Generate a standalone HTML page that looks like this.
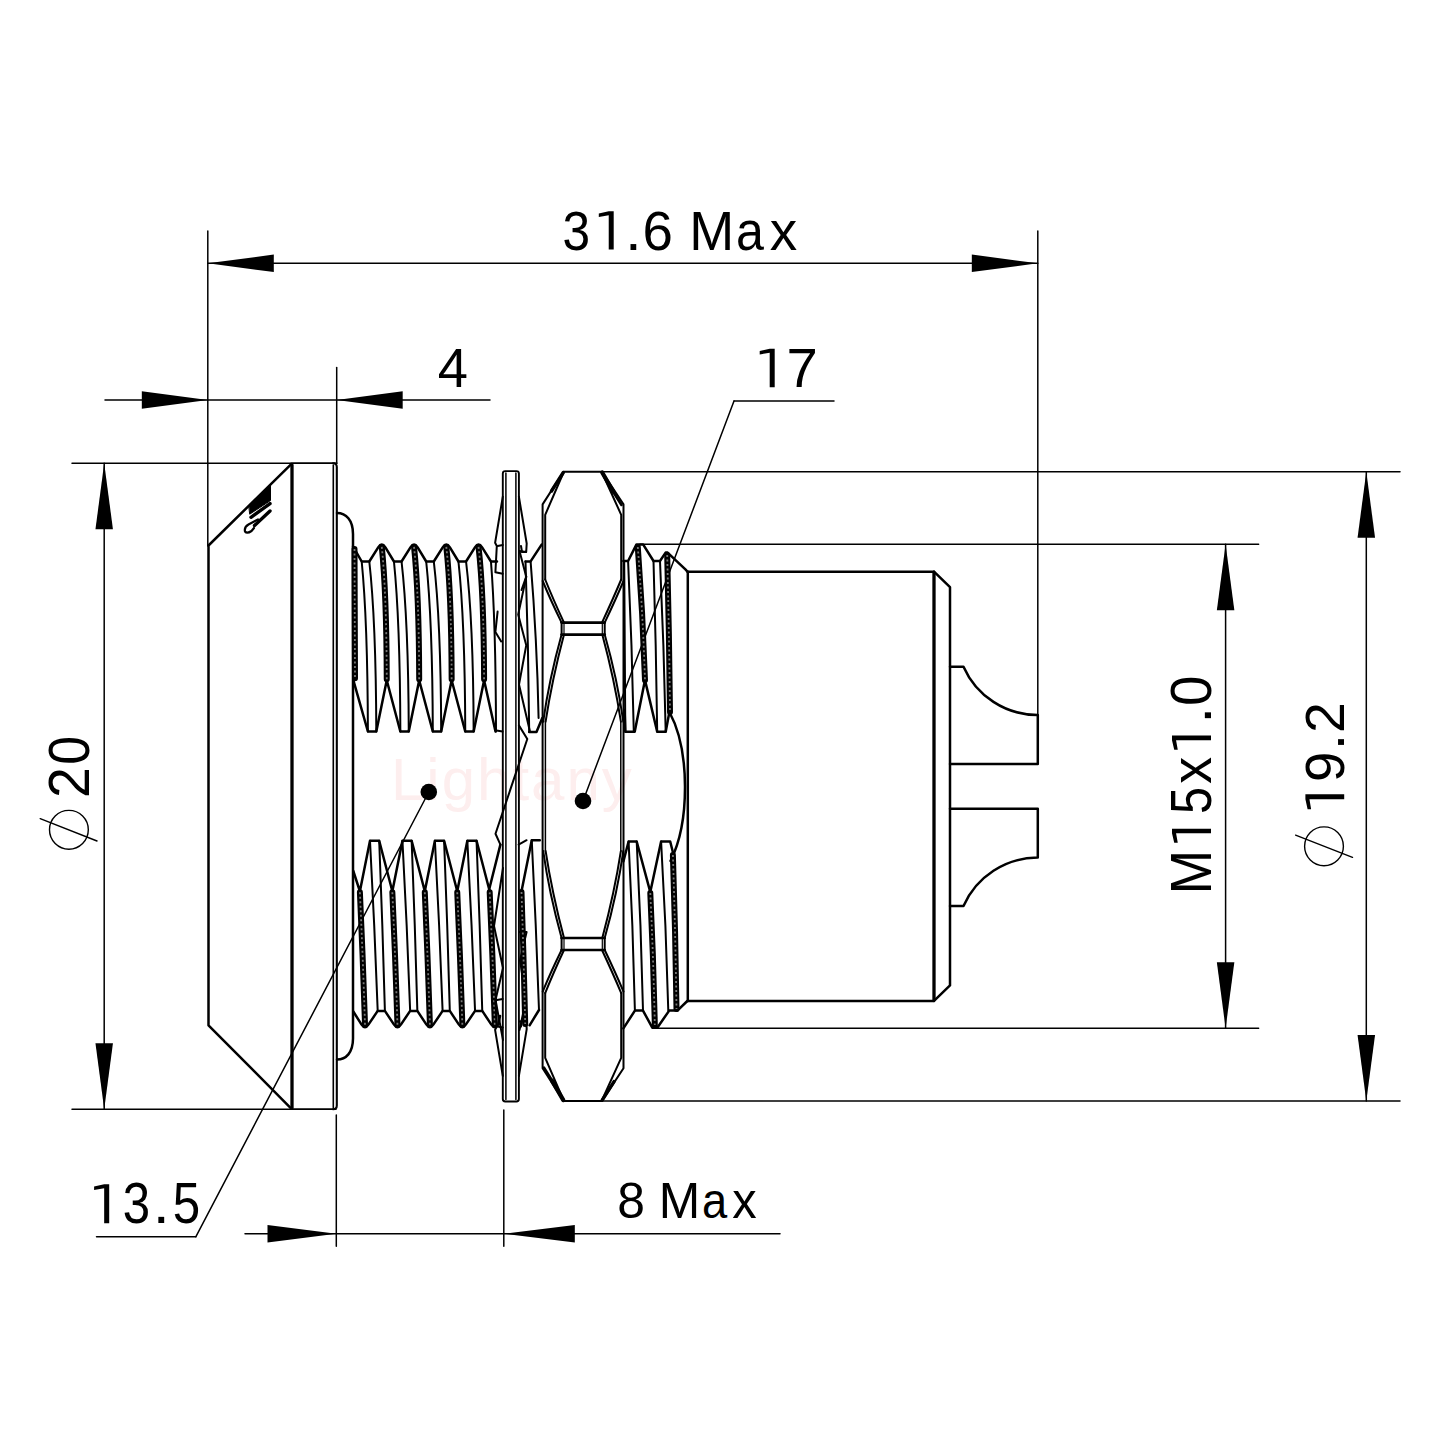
<!DOCTYPE html>
<html><head><meta charset="utf-8"><title>Connector drawing</title><style>html,body{margin:0;padding:0;background:#fff;width:1440px;height:1440px;overflow:hidden}svg{display:block}</style></head><body>
<svg width="1440" height="1440" viewBox="0 0 1440 1440">
<style>line,path,circle,polyline{fill:none;stroke:#000;stroke-linecap:round;stroke-linejoin:round}.dot,.g1{fill:#000;stroke:none}.fb{fill:#000;stroke:#000;stroke-width:1}.dim line,.dim path{stroke-width:1.5}.ar{fill:#000!important;stroke:none!important}.ph{stroke-width:1.4}.o{stroke-width:2.5}.t{stroke-width:2}.k{stroke-width:6}.d{stroke-width:1.8;stroke:#777;stroke-dasharray:2 2.5;stroke-linecap:butt}text{font-family:"Liberation Sans",sans-serif;fill:#000}.wm{fill:#fdeeee;font-size:60px;letter-spacing:2px}</style>
<rect x="0" y="0" width="1440" height="1440" fill="#fff" stroke="none"/>
<text class="wm" x="391" y="800">Lightany</text>
<g class="dim">
<line x1="207.8" y1="231" x2="207.8" y2="546"/>
<line x1="1037.8" y1="231" x2="1037.8" y2="715"/>
<line x1="207.8" y1="263.3" x2="1037.8" y2="263.3"/>
<path class="ar" d="M207.8,263.3 L273.8,254.55 L273.8,272.05Z"/>
<path class="ar" d="M1037.8,263.3 L971.8,254.55 L971.8,272.05Z"/>
<line x1="336.7" y1="367.5" x2="336.7" y2="463"/>
<line x1="105" y1="400" x2="490" y2="400"/>
<path class="ar" d="M207.8,400 L141.8,391.25 L141.8,408.75Z"/>
<path class="ar" d="M336.7,400 L402.7,391.25 L402.7,408.75Z"/>
<line x1="72" y1="463.3" x2="337" y2="463.3"/>
<line x1="72" y1="1109.2" x2="336" y2="1109.2"/>
<line x1="104.2" y1="463.3" x2="104.2" y2="1109.2"/>
<path class="ar" d="M104.2,463.3 L95.45,529.3 L112.95,529.3Z"/>
<path class="ar" d="M104.2,1109.2 L95.45,1043.2 L112.95,1043.2Z"/>
<line x1="602" y1="471.7" x2="1400" y2="471.7"/>
<line x1="602" y1="1100.9" x2="1400" y2="1100.9"/>
<line x1="1366.3" y1="471.7" x2="1366.3" y2="1100.9"/>
<path class="ar" d="M1366.3,471.7 L1357.55,537.7 L1375.05,537.7Z"/>
<path class="ar" d="M1366.3,1100.9 L1357.55,1034.9 L1375.05,1034.9Z"/>
<line x1="640" y1="544.3" x2="1258.6" y2="544.3"/>
<line x1="655" y1="1028.3" x2="1258.6" y2="1028.3"/>
<line x1="1225.6" y1="544.3" x2="1225.6" y2="1028.3"/>
<path class="ar" d="M1225.6,544.3 L1216.85,610.3 L1234.35,610.3Z"/>
<path class="ar" d="M1225.6,1028.3 L1216.85,962.3 L1234.35,962.3Z"/>
<line x1="336.3" y1="1115" x2="336.3" y2="1246.3"/>
<line x1="503.8" y1="1110" x2="503.8" y2="1246.3"/>
<line x1="245" y1="1233.8" x2="780" y2="1233.8"/>
<path class="ar" d="M336.3,1233.8 L267.5,1225.05 L267.5,1242.55Z"/>
<path class="ar" d="M503.8,1233.8 L574.8,1225.05 L574.8,1242.55Z"/>
<line x1="734" y1="401" x2="834" y2="401"/>
<line x1="734" y1="401" x2="583" y2="801"/>
<line x1="96.5" y1="1236.8" x2="195.8" y2="1236.8"/>
<line x1="195.8" y1="1236.8" x2="428.8" y2="792"/>
</g>
<circle class="dot" cx="428.8" cy="792" r="8.3"/>
<circle class="dot" cx="583" cy="801" r="8.3"/>
<circle cx="68.9" cy="829.8" r="19.4" class="ph"/>
<line x1="40.2" y1="818.6" x2="97" y2="841" class="ph"/>
<circle cx="1324" cy="846.3" r="19.4" class="ph"/>
<line x1="1295.6" y1="835.1" x2="1352.5" y2="857.4" class="ph"/>
<g class="o">
<path d="M291,464.3 L208.5,545.5 L208.5,1025.3 L291,1108.3"/>
<line x1="291" y1="463.3" x2="335" y2="463.3" stroke-width="1.6"/>
<line x1="291" y1="1109.2" x2="335" y2="1109.2" stroke-width="1.6"/>
<line x1="333.3" y1="465" x2="333.3" y2="1107.5" stroke-width="1.6"/>
<path d="M333,463.3 Q336.8,463.3 336.8,467 L336.8,1105.5 Q336.8,1109.2 333,1109.2" stroke-width="2.1"/>
</g>
<line x1="292" y1="465" x2="292" y2="1108" stroke-width="3.3"/>
<path d="M337,513 C346,513 353,520 353,534 L353,1038.6 C353,1052.6 346,1059.6 337,1059.6" class="o"/>
<path d="M353,546.3 L361.7,561.5 L369.3,561.5 L378.2,547.4 Q381.8,541.8 385.4,547.4 L393.95,561.5 L401.55,561.5 L410.45,547.4 Q414.05,541.8 417.65,547.4 L426.2,561.5 L433.8,561.5 L442.7,547.4 Q446.3,541.8 449.9,547.4 L458.45,561.5 L466.05,561.5 L474.95,547.4 Q478.55,541.8 482.15,547.4 L490.95,561.5 L497,561.5" class="o"/>
<path d="M353.4,680.3 L367.9,731.5 L376.3,731.5 L386.75,680.3 L400.35,731.5 L408.75,731.5 L419.2,680.3 L432.8,731.5 L441.2,731.5 L451.65,680.3 L465.25,731.5 L473.65,731.5 L484.1,680.3 L495.5,731.5" class="o"/>
<path d="M354.5,549 Q354.75,613.65 355,678.3" class="k"/>
<path d="M354.5,549 Q354.75,613.65 355,678.3" class="d"/>
<path d="M381.8,546.9 Q386.5,593.24 386.75,679.3" class="k"/>
<path d="M381.8,546.9 Q386.5,593.24 386.75,679.3" class="d"/>
<path d="M361.7,561.5 Q367.59,621 367.9,731.5" class="t"/>
<path d="M369.3,561.5 Q375.95,621 376.3,731.5" class="t"/>
<path d="M414.05,546.9 Q418.94,593.24 419.2,679.3" class="k"/>
<path d="M414.05,546.9 Q418.94,593.24 419.2,679.3" class="d"/>
<path d="M393.95,561.5 Q400.03,621 400.35,731.5" class="t"/>
<path d="M401.55,561.5 Q408.39,621 408.75,731.5" class="t"/>
<path d="M446.3,546.9 Q451.38,593.24 451.65,679.3" class="k"/>
<path d="M446.3,546.9 Q451.38,593.24 451.65,679.3" class="d"/>
<path d="M426.2,561.5 Q432.47,621 432.8,731.5" class="t"/>
<path d="M433.8,561.5 Q440.83,621 441.2,731.5" class="t"/>
<path d="M478.55,546.9 Q483.82,593.24 484.1,679.3" class="k"/>
<path d="M478.55,546.9 Q483.82,593.24 484.1,679.3" class="d"/>
<path d="M458.45,561.5 Q464.91,621 465.25,731.5" class="t"/>
<path d="M466.05,561.5 Q473.27,621 473.65,731.5" class="t"/>
<path d="M490.95,561.5 Q495.75,621 496,731.5" class="t"/>
<path d="M353.3,871 L359.9,891.3 L370,840.7 L379.2,840.7 L392.35,891.3 L402.45,840.7 L411.65,840.7 L424.8,891.3 L434.9,840.7 L444.1,840.7 L457.25,891.3 L467.35,840.7 L476.55,840.7 L489.7,891.3" class="o"/>
<path d="M353.3,1011.5 L361.4,1024.4 Q365,1030 368.6,1024.4 L377.7,1010.9 L384.9,1010.9 L393.85,1024.4 Q397.45,1030 401.05,1024.4 L410.15,1010.9 L417.35,1010.9 L426.3,1024.4 Q429.9,1030 433.5,1024.4 L442.6,1010.9 L449.8,1010.9 L458.75,1024.4 Q462.35,1030 465.95,1024.4 L475.05,1010.9 L482.25,1010.9 L491.2,1024.4 Q494.8,1030 498.4,1024.4 L500,1016" class="o"/>
<path d="M359.9,892.3 Q362.96,958.6 365,1024.9" class="k"/>
<path d="M359.9,892.3 Q362.96,958.6 365,1024.9" class="d"/>
<path d="M370,840.7 Q374.62,925.8 377.7,1010.9" class="t"/>
<path d="M379.2,840.7 Q382.62,925.8 384.9,1010.9" class="t"/>
<path d="M392.35,892.3 Q395.41,958.6 397.45,1024.9" class="k"/>
<path d="M392.35,892.3 Q395.41,958.6 397.45,1024.9" class="d"/>
<path d="M402.45,840.7 Q407.07,925.8 410.15,1010.9" class="t"/>
<path d="M411.65,840.7 Q415.07,925.8 417.35,1010.9" class="t"/>
<path d="M424.8,892.3 Q427.86,958.6 429.9,1024.9" class="k"/>
<path d="M424.8,892.3 Q427.86,958.6 429.9,1024.9" class="d"/>
<path d="M434.9,840.7 Q439.52,925.8 442.6,1010.9" class="t"/>
<path d="M444.1,840.7 Q447.52,925.8 449.8,1010.9" class="t"/>
<path d="M457.25,892.3 Q460.31,958.6 462.35,1024.9" class="k"/>
<path d="M457.25,892.3 Q460.31,958.6 462.35,1024.9" class="d"/>
<path d="M467.35,840.7 Q471.97,925.8 475.05,1010.9" class="t"/>
<path d="M476.55,840.7 Q479.97,925.8 482.25,1010.9" class="t"/>
<path d="M489.7,892.3 Q492.76,958.6 494.8,1024.9" class="k"/>
<path d="M489.7,892.3 Q492.76,958.6 494.8,1024.9" class="d"/>
<path d="M502.8,1099.1 L502.8,473.5 Q502.8,471.1 505.2,471.1 L516.5,471.1 Q518.9,471.1 518.9,473.5 L518.9,1099.1 Q518.9,1101.5 516.5,1101.5 L505.2,1101.5 Q502.8,1101.5 502.8,1099.1 Z" stroke-width="1.9"/>
<line x1="505.9" y1="473" x2="505.9" y2="1099.6" stroke-width="1.5"/>
<line x1="515.9" y1="473" x2="515.9" y2="1099.6" stroke-width="1.5"/>
<path d="M502.8,496.7 L495.1,542.8 L496.8,546 L495.4,572.3 L502.7,573.7" class="t"/>
<path d="M497.6,546 L502.8,545" class="t"/>
<path d="M518.9,496.7 L526.7,543.5 L526.2,552 L519.5,551" class="t"/>
<path d="M521,546 L522,552 L526,552" class="t"/>
<path d="M502.8,1075.9 L495.1,1029.8 L496.8,1026.6 L495.4,1000.3 L502.7,998.9" class="t"/>
<path d="M497.6,1026.6 L502.8,1027.6" class="t"/>
<path d="M518.9,1075.9 L526.7,1029.1 L526.2,1020.6 L519.5,1021.6" class="t"/>
<path d="M521,1026.6 L522,1020.6 L526,1020.6" class="t"/>
<path d="M497.6,611.6 L495.4,632 L501.2,641.5" class="t"/>
<path d="M519.5,551 L526.25,576.7 L518.2,614.6 L526.25,645.2 L519,684.6 L529.9,731.25" class="t"/>
<path d="M526.25,576.7 L521.5,590" class="t"/>
<path d="M525.5,561.4 L530.6,561.4 L541.6,544.6" class="o"/>
<path d="M525.5,561.4 Q528.46,646.7 529.2,732" class="t"/>
<path d="M530.6,561.4 Q537,639.7 538.6,718" class="t"/>
<path d="M529.2,732 L536.5,732 L542.3,718" class="o"/>
<path d="M502.5,731.5 L496.5,730.5" class="t"/>
<path d="M518.9,725.4 L527.3,739 L495.5,833.75 L500.4,844.6" class="t"/>
<path d="M503,868 L494,926 L503,968 L495.5,1000 L503,1040" class="t"/>
<path d="M518.6,844.6 L526.6,840.2" class="t"/>
<path d="M519.4,932 L526.6,932 L520,960 L526,1000 L519.5,1030" class="t"/>
<path d="M521.5,891.2 L531.75,840.2 L539.8,840.2" class="o"/>
<path d="M521.5,892 Q523.72,958 525.2,1024" class="k"/>
<path d="M521.5,892 Q523.72,958 525.2,1024" class="d"/>
<path d="M531.75,840.2 Q536.1,925.1 539,1010" class="t"/>
<path d="M539,1010 L529.6,1025.3" class="o"/>
<path d="M500.4,844.6 L488.7,891.2" class="o"/>
<path d="M563.5,471.7 L542.6,504.4 L542.6,1068.2 L563.5,1100.9 L602,1100.9 L623.5,1068.2 L623.5,504.4 L602,471.7Z" stroke-width="2"/>
<path d="M563.3,473 L545.2,514.8 L545.2,579.5" class="t"/>
<path d="M602.2,473 L621.2,514.8 L621.2,579.5" class="t"/>
<path d="M563.3,472.5 L551.5,491" stroke-width="3.4"/>
<path d="M602.2,472.5 L613.5,492" stroke-width="4.2"/>
<path d="M612,490 L621.5,505" stroke-width="2.6"/>
<path d="M545.2,579.5 Q553,599 564,622.6" class="t"/>
<path d="M542.7,581 Q550.5,600 561.6,622.6" class="t"/>
<path d="M621.2,579.5 Q613,599 602,622.6" class="t"/>
<path d="M623.5,581 Q615.5,600 604.7,622.6" class="t"/>
<line x1="561.6" y1="622.6" x2="604.7" y2="622.6" stroke-width="2.7"/>
<line x1="561.6" y1="634.6" x2="604.7" y2="634.6" stroke-width="2.7"/>
<line x1="561.6" y1="622.6" x2="561.6" y2="634.6" class="t"/>
<line x1="564" y1="622.6" x2="564" y2="634.6" stroke-width="1.2"/>
<line x1="604.7" y1="622.6" x2="604.7" y2="634.6" class="t"/>
<line x1="602.3" y1="622.6" x2="602.3" y2="634.6" stroke-width="1.2"/>
<path d="M564,634.6 Q552,680 545.6,721.7" class="t"/>
<path d="M561.6,634.6 Q549,680 543.2,721.7" class="t"/>
<path d="M602.3,634.6 Q614.5,680 620.9,721.7" class="t"/>
<path d="M604.7,634.6 Q617.5,680 623.3,721.7" class="t"/>
<path d="M563.3,1099.6 L545.2,1057.8 L545.2,993.1" class="t"/>
<path d="M602.2,1099.6 L621.2,1057.8 L621.2,993.1" class="t"/>
<path d="M602.2,1100.1 L614,1081.6" stroke-width="3.4"/>
<path d="M563.3,1100.1 L552,1080.6" stroke-width="4.2"/>
<path d="M553.5,1082.6 L544,1067.6" stroke-width="2.6"/>
<path d="M545.2,993.1 Q553,973.6 564,950" class="t"/>
<path d="M542.7,991.6 Q550.5,972.6 561.6,950" class="t"/>
<path d="M621.2,993.1 Q613,973.6 602,950" class="t"/>
<path d="M623.5,991.6 Q615.5,972.6 604.7,950" class="t"/>
<line x1="561.6" y1="950" x2="604.7" y2="950" stroke-width="2.7"/>
<line x1="561.6" y1="938" x2="604.7" y2="938" stroke-width="2.7"/>
<line x1="561.6" y1="950" x2="561.6" y2="938" class="t"/>
<line x1="564" y1="950" x2="564" y2="938" stroke-width="1.2"/>
<line x1="604.7" y1="950" x2="604.7" y2="938" class="t"/>
<line x1="602.3" y1="950" x2="602.3" y2="938" stroke-width="1.2"/>
<path d="M564,938 Q552,892.6 545.6,850.9" class="t"/>
<path d="M561.6,938 Q549,892.6 543.2,850.9" class="t"/>
<path d="M602.3,938 Q614.5,892.6 620.9,850.9" class="t"/>
<path d="M604.7,938 Q617.5,892.6 623.3,850.9" class="t"/>
<line x1="545.4" y1="721.7" x2="545.4" y2="850.9" stroke-width="1.5"/>
<line x1="620.8" y1="721.7" x2="620.8" y2="850.9" stroke-width="1.5"/>
<path d="M623.4,561 L628.1,561 L636.5,544.4 L643.1,544.4 L653.5,561 L660,561 L665.6,552.6 L667.6,552.6 L685.4,569.4 L687.2,571.3" class="o"/>
<path d="M624.6,710 L625.3,731.7 L634.7,731.7 L645,680.1 L657.2,731.7 L665.7,731.7 L669.4,712" class="o"/>
<path d="M637.8,547 Q642.84,613.55 645,680.1" class="k"/>
<path d="M637.8,547 Q642.84,613.55 645,680.1" class="d"/>
<path d="M667.2,555 Q669.16,633.5 670,712" class="k"/>
<path d="M667.2,555 Q669.16,633.5 670,712" class="d"/>
<path d="M624.2,561 Q624.97,646.35 625.3,731.7" class="t"/>
<path d="M628.1,561 Q632.09,646.35 633.8,731.7" class="t"/>
<path d="M653.5,561 Q656.09,646.35 657.2,731.7" class="t"/>
<path d="M660,561 Q663.99,646.35 665.7,731.7" class="t"/>
<path d="M669.4,712 C690,750 690,822 670.5,861" class="o"/>
<path d="M623.4,861.4 L628.6,841.5 L636.7,841.5 L650.3,892.1 L661.1,841.5 L670.2,841.5 L672.9,852.3" class="o"/>
<path d="M623.4,1028.4 L634.9,1010.6 L643,1010.6 L652.3,1027.7 L657.3,1027.7 L669.2,1010.6 L677.4,1010.6 L687.3,1001" class="o"/>
<path d="M650.3,893 Q653.45,959 654.8,1025" class="k"/>
<path d="M650.3,893 Q653.45,959 654.8,1025" class="d"/>
<path d="M672.9,855 Q675.42,932 676.5,1009" class="k"/>
<path d="M672.9,855 Q675.42,932 676.5,1009" class="d"/>
<path d="M628.6,841.5 Q633.01,926.05 634.9,1010.6" class="t"/>
<path d="M636.7,841.5 Q641.11,926.05 643,1010.6" class="t"/>
<path d="M661.1,841.5 Q666.14,926.05 668.3,1010.6" class="t"/>
<g class="o">
<path d="M687.5,571.7 L934,571.7"/>
<path d="M687.8,1000.9 L934,1000.9"/>
<line x1="687.8" y1="571.7" x2="687.8" y2="1000.9"/>
<path d="M934,571.7 L950,587.2 L950,985.4 L934,1000.9"/>
</g>
<line x1="934" y1="573" x2="934" y2="999.6" stroke-width="3.3"/>
<g class="o">
<path d="M950,666.7 H963.5 A81,81 0 0 0 1037.8,715 V764 H950"/>
<path d="M950,808.7 H1037.8 V857.6 A81,81 0 0 0 963.5,905.9 H950"/>
</g>
<path class="fb" d="M249,505.6 L270.5,484.5 L270.5,500.5 L250,514 Z"/>
<line x1="251" y1="517.3" x2="270" y2="503.6" stroke-width="3.4"/>
<line x1="254.5" y1="525.5" x2="270" y2="511" stroke-width="3.4"/>
<path d="M258,519.5 L248.5,524.5 Q244,527 245,531.5 Q247,534 251.5,531 L254,528" stroke-width="2.2"/>
<text transform="translate(562.62,249.6) scale(0.888,1)" font-size="55.81">3</text>
<path class="g1" transform="translate(0,249.6)" d="M613.7,0 L608.73,0 L608.73,-34.41 L598.8,-32.72 L598.8,-36.21 L608.73,-38.4 L613.7,-38.4Z"/>
<text transform="translate(625.12,249.6) scale(1.080,1)" font-size="55.81">.</text>
<text transform="translate(642.51,249.6) scale(0.979,1)" font-size="55.81">6</text>
<text transform="translate(689.18,249.6) scale(0.967,1)" font-size="55.81">M</text>
<text transform="translate(736.09,249.6) scale(0.899,1)" font-size="55.81">a</text>
<text transform="translate(769.64,249.6) scale(0.984,1)" font-size="55.81">x</text>
<text transform="translate(437.75,386.6) scale(0.974,1)" font-size="55.81">4</text>
<path class="g1" transform="translate(0,387.2)" d="M774.7,0 L769.7,0 L769.7,-34.45 L759.7,-32.76 L759.7,-36.26 L769.7,-38.45 L774.7,-38.45Z"/>
<text transform="translate(786.53,387.2) scale(1.007,1)" font-size="55.89">7</text>
<path class="g1" transform="translate(0,1223.3)" d="M109.2,0 L104.17,0 L104.17,-34.94 L94.1,-33.23 L94.1,-36.78 L104.17,-39 L109.2,-39Z"/>
<text transform="translate(122.83,1223.3) scale(0.867,1)" font-size="56.69">3</text>
<text transform="translate(152.84,1223.3) scale(1.080,1)" font-size="56.69">.</text>
<text transform="translate(172.78,1223.3) scale(0.869,1)" font-size="56.69">5</text>
<text transform="translate(617.26,1218.1) scale(0.984,1)" font-size="50.58">8</text>
<text transform="translate(658.72,1218.1) scale(0.984,1)" font-size="50.58">M</text>
<text transform="translate(702,1218.1) scale(0.896,1)" font-size="50.58">a</text>
<text transform="translate(732.21,1218.1) scale(0.966,1)" font-size="50.58">x</text>
<text transform="rotate(-90) translate(-798.07,88.8) scale(0.981,1)" font-size="56.54">2</text>
<text transform="rotate(-90) translate(-764.82,88.8) scale(0.918,1)" font-size="56.54">0</text>
<text transform="rotate(-90) translate(-894.36,1211) scale(0.939,1)" font-size="56.69">M</text>
<path class="g1" transform="rotate(-90) translate(0,1211)" d="M-828.7,0 L-833.37,0 L-833.37,-34.94 L-842.7,-33.23 L-842.7,-36.78 L-833.37,-39 L-828.7,-39Z"/>
<text transform="rotate(-90) translate(-814,1211) scale(0.860,1)" font-size="56.69">5</text>
<text transform="rotate(-90) translate(-783.85,1211) scale(0.950,1)" font-size="56.69">x</text>
<path class="g1" transform="rotate(-90) translate(0,1211)" d="M-735.4,0 L-740.2,0 L-740.2,-34.94 L-749.8,-33.23 L-749.8,-36.78 L-740.2,-39 L-735.4,-39Z"/>
<text transform="rotate(-90) translate(-723.81,1211) scale(1.080,1)" font-size="56.69">.</text>
<text transform="rotate(-90) translate(-705.94,1211) scale(0.967,1)" font-size="56.69">0</text>
<path class="g1" transform="rotate(-90) translate(0,1344.2)" d="M-794.3,0 L-799.27,0 L-799.27,-34.76 L-809.2,-33.06 L-809.2,-36.59 L-799.27,-38.8 L-794.3,-38.8Z"/>
<text transform="rotate(-90) translate(-781.97,1344.2) scale(0.971,1)" font-size="56.4">9</text>
<text transform="rotate(-90) translate(-750.42,1344.2) scale(1.080,1)" font-size="56.4">.</text>
<text transform="rotate(-90) translate(-732.97,1344.2) scale(0.984,1)" font-size="56.4">2</text>
</svg>
</body></html>
